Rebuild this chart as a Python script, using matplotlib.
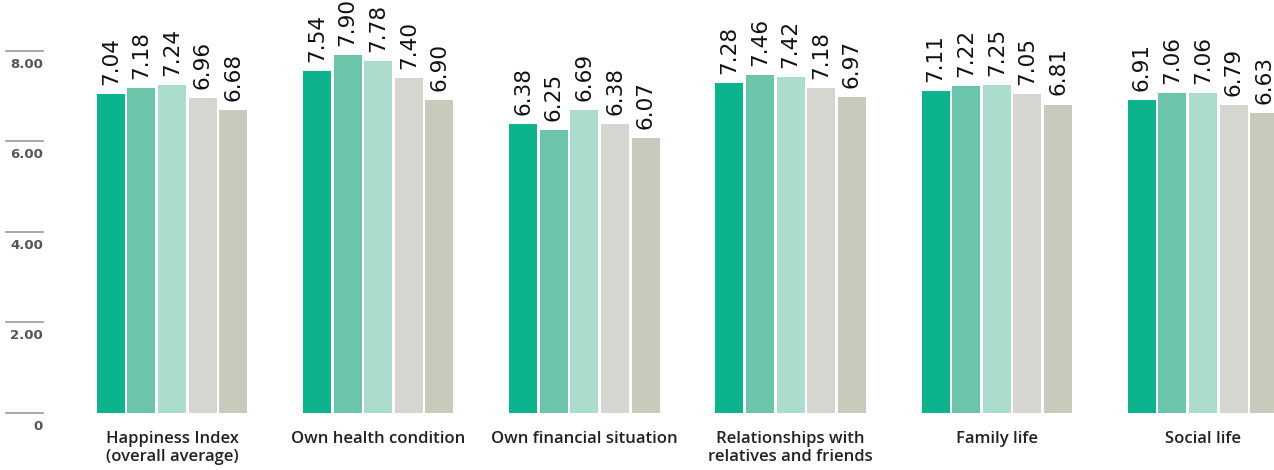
import numpy as np
import matplotlib.pyplot as plt

categories = ["Happiness Index\n(overall average)", "Own health condition",
              "Own financial situation", "Relationships with\nrelatives and friends",
              "Family life", "Social life"]
series = [
    [7.04, 7.54, 6.38, 7.28, 7.11, 6.91],
    [7.18, 7.90, 6.25, 7.46, 7.22, 7.06],
    [7.24, 7.78, 6.69, 7.42, 7.25, 7.06],
    [6.96, 7.40, 6.38, 7.18, 7.05, 6.79],
    [6.68, 6.90, 6.07, 6.97, 6.81, 6.63],
]
colors = ["#0db38d", "#6cc5ab", "#acdccb", "#d5d6cf", "#c8cabb"]
yticks = [0, 2, 4, 6, 8]
ytick_labels = ["0", "2.00", "4.00", "6.00", "8.00"]

fig = plt.figure(figsize=(12.74, 4.70), dpi=100)
ax = fig.add_axes([0, 0, 1, 1])
ax.set_xlim(-172 / 206.2, (1274 - 172) / 206.2)
ax.set_ylim(-57 / 45.3, 413 / 45.3)
ax.axis("off")

x = np.arange(len(categories))
step = 0.1484
width = 0.136
for i, vals in enumerate(series):
    pos = x + (i - 2) * step
    ax.bar(pos, vals, width=width, color=colors[i], linewidth=0)
    for px, v in zip(pos, vals):
        ax.annotate(f"{v:.2f}", (px, v), xytext=(0, 6.5), textcoords="offset points",
                    rotation=90, ha="center", va="bottom", fontsize=15.5,
                    family=["Liberation Sans Narrow", "DejaVu Sans"], color="#111111")

# y ticks: short lines with labels below
tr = ax.get_yaxis_transform()
for t, lab in zip(yticks, ytick_labels):
    ax.plot([6 / 1274, 43 / 1274], [t, t], transform=tr, color="#999999", lw=1.2)
    ax.annotate(lab, (43 / 1274, t), xycoords=tr, xytext=(0, -5), textcoords="offset points",
                ha="right", va="top", fontsize=9.5, fontweight="bold", color="#555555",
                family=["DejaVu Sans"])

for xi, cat in zip(x, categories):
    ax.annotate(cat, (xi, 0), xytext=(0, -13), textcoords="offset points",
                ha="center", va="top", fontsize=12, fontweight="semibold", color="#222222",
                family=["Open Sans", "DejaVu Sans"], linespacing=1.2)

fig.savefig("out.png", dpi=100)
